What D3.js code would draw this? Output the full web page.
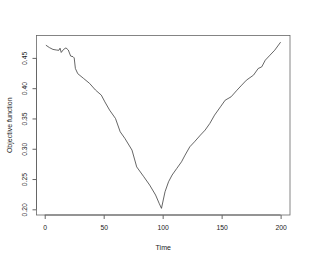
<!DOCTYPE html>
<html lang="en">
<head>
    <meta charset="utf-8">
    <title>Objective function over time</title>
    <script src="https://cdn.jsdelivr.net/npm/d3@7"></script>
    <style>
        body { margin: 0; background: #fff; }
        svg { display: block; }
        text { font-family: "Liberation Sans", Arial, sans-serif; fill: #222; }
    </style>
</head>
<body>
    <script>
        // values
        var time = [1, 4, 7, 10, 12, 13, 14, 16, 18, 20, 22, 24, 25, 26, 28, 33, 38, 43, 48, 51,
                    55, 60, 64, 68, 74, 78, 84, 89, 94, 97, 99, 102, 105, 108, 112, 116, 119, 123,
                    127, 132, 136, 140, 144, 149, 153, 158, 163, 167, 171, 177, 181, 184, 187, 191, 195, 200];
        var objective = [0.471, 0.467, 0.464, 0.463, 0.4625, 0.466, 0.459, 0.464, 0.4665, 0.463, 0.453, 0.452, 0.450, 0.4325, 0.424, 0.416, 0.408, 0.397, 0.3885, 0.3774,
                    0.3638, 0.350, 0.328, 0.317, 0.2978, 0.270, 0.2538, 0.240, 0.2236, 0.210, 0.2016, 0.229, 0.2455, 0.2566, 0.2676, 0.2785, 0.2895, 0.3032,
                    0.3115, 0.3225, 0.3308, 0.3418, 0.3555, 0.3692, 0.3802, 0.3857, 0.3967, 0.405, 0.4132, 0.4215, 0.4325, 0.4352, 0.4462, 0.4545, 0.4627, 0.476];
        var xTicks = [0, 50, 100, 150, 200];
        var yTicks = [0.20, 0.25, 0.30, 0.35, 0.40, 0.45];

        var width = 309, height = 262;
        var box = {left: 36.5, right: 290, top: 35.5, bottom: 215};

        var svg = d3.select("body").append("svg")
            .attr("width", width)
            .attr("height", height);

        // R-style 4% padding around the data range
        function padded(ext) {
            var p = (ext[1] - ext[0]) * 0.04;
            return [ext[0] - p, ext[1] + p];
        }

        var x = d3.scaleLinear().domain(padded(d3.extent(time))).range([box.left, box.right]);
        var y = d3.scaleLinear().domain(padded(d3.extent(objective))).range([box.bottom, box.top]);

        var data = time.map(function(t, i) { return {t: t, v: objective[i]}; });

        // the line
        svg.append("path")
            .datum(data)
            .attr("fill", "none")
            .attr("stroke", "#333")
            .attr("stroke-width", 0.75)
            .attr("stroke-linejoin", "round")
            .attr("d", d3.line().x(function(d) { return x(d.t); }).y(function(d) { return y(d.v); }));

        // frame
        svg.append("rect")
            .attr("x", box.left)
            .attr("y", box.top)
            .attr("width", box.right - box.left)
            .attr("height", box.bottom - box.top)
            .attr("fill", "none")
            .attr("stroke", "#666")
            .attr("stroke-width", 0.8);

        // bottom axis
        var xAxis = svg.append("g")
            .attr("transform", "translate(0," + box.bottom + ")")
            .call(d3.axisBottom(x).tickValues(xTicks).tickSize(4).tickPadding(6).tickFormat(d3.format("d")));
        xAxis.select(".domain").attr("d", "M" + x(0) + ",0H" + x(200)).attr("stroke", "#666");
        xAxis.selectAll(".tick line").attr("stroke", "#666");
        xAxis.selectAll("text").attr("font-size", "6.8px").attr("fill", "#333");

        // left axis, labels rotated like R's default
        var yAxis = svg.append("g")
            .attr("transform", "translate(" + box.left + ",0)")
            .call(d3.axisLeft(y).tickValues(yTicks).tickSize(4).tickFormat(d3.format(".2f")));
        yAxis.select(".domain").attr("d", "M0," + y(0.20) + "V" + y(0.45)).attr("stroke", "#666");
        yAxis.selectAll(".tick line").attr("stroke", "#666");
        yAxis.selectAll("text")
            .attr("font-size", "6.8px")
            .attr("fill", "#333")
            .attr("x", null)
            .attr("dy", null)
            .attr("text-anchor", "middle")
            .attr("transform", "translate(-9.5,0) rotate(-90)");

        svg.append("text")
            .attr("x", (box.left + box.right) / 2)
            .attr("y", 250)
            .attr("text-anchor", "middle")
            .attr("font-size", "7px")
            .attr("fill", "#333")
            .text("Time");

        svg.append("text")
            .attr("transform", "translate(11.5," + ((box.top + box.bottom) / 2) + ") rotate(-90)")
            .attr("text-anchor", "middle")
            .attr("font-size", "7px")
            .attr("fill", "#333")
            .text("Objective function");
    </script>
</body>
</html>
